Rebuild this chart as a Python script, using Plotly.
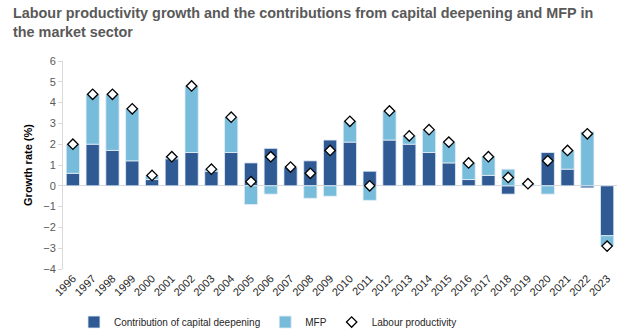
import plotly.graph_objects as go

years = [str(y) for y in range(1996, 2024)]
capital = [0.6, 2.0, 1.7, 1.2, 0.3, 1.3, 1.6, 0.7, 1.6, 1.1, 1.8, 0.9, 1.2, 2.2,
           2.1, 0.7, 2.2, 2.0, 1.6, 1.1, 0.3, 0.5, -0.4, 0.0, 1.6, 0.8, -0.1, -2.4]
mfp = [1.4, 2.4, 2.7, 2.5, 0.2, 0.1, 3.2, 0.1, 1.7, -0.9, -0.4, 0.0, -0.6, -0.5,
       1.0, -0.7, 1.4, 0.4, 1.1, 1.0, 0.8, 0.9, 0.8, 0.1, -0.4, 0.9, 2.6, -0.5]
labour = [2.0, 4.4, 4.4, 3.7, 0.5, 1.4, 4.8, 0.8, 3.3, 0.2, 1.4, 0.9, 0.6, 1.7,
          3.1, 0.0, 3.6, 2.4, 2.7, 2.1, 1.1, 1.4, 0.4, 0.1, 1.2, 1.7, 2.5, -2.9]

title_text = ("Labour productivity growth and the contributions from capital deepening and MFP in"
              "<br>the market sector")

dark = "#2F5A94"
light = "#78BCDB"

fig = go.Figure()
fig.add_trace(go.Bar(x=years, y=capital, name="Contribution of capital deepening",
                     marker=dict(color=dark, line=dict(color="#E6EEF6", width=0.8))))
fig.add_trace(go.Bar(x=years, y=mfp, name="MFP",
                     marker=dict(color=light, line=dict(color="#E6EEF6", width=0.8))))
fig.add_trace(go.Scatter(x=years, y=labour, name="Labour productivity", mode="markers",
                         marker=dict(symbol="diamond", size=8, color="white",
                                     line=dict(color="black", width=1.3))))

fig.add_annotation(text="<b>" + title_text.replace("<br>", "</b><br><b>") + "</b>",
                   xref="paper", yref="paper", x=-0.094, y=1.278,
                   xanchor="left", yanchor="top", align="left", showarrow=False,
                   font=dict(size=14.4, color="#595959", family="Liberation Sans, Arial, sans-serif"))

fig.update_layout(
    width=633, height=336,
    barmode="relative", bargap=0.33,
    plot_bgcolor="white", paper_bgcolor="white",
    margin=dict(l=63, r=16, t=61, b=67, autoexpand=False),
    font=dict(family="Liberation Sans, Arial, sans-serif", color="#404040"),
    legend=dict(orientation="h", x=0.37, xanchor="center", y=-0.255, yanchor="middle",
                font=dict(size=10, color="#262626"), itemwidth=30, traceorder="normal"),
    showlegend=True,
)
fig.update_xaxes(range=[-0.5, len(years) - 0.5], autorange=False,
                 showline=False, ticks="", tickangle=-45, tickfont=dict(size=11, color="#262626"),
                 showgrid=False, automargin=False)
fig.update_yaxes(range=[-4, 6], dtick=1, showgrid=False, zeroline=True, zerolinecolor="#D9D9D9",
                 zerolinewidth=1, showline=True, linecolor="#D9D9D9", ticks="outside",
                 tickcolor="#D9D9D9", ticklen=4, tickfont=dict(size=11, color="#595959"),
                 automargin=False,
                 title=dict(text="<b>Growth rate (%)</b>", font=dict(size=11, color="#000000"), standoff=8))

fig.write_html("out.html")
